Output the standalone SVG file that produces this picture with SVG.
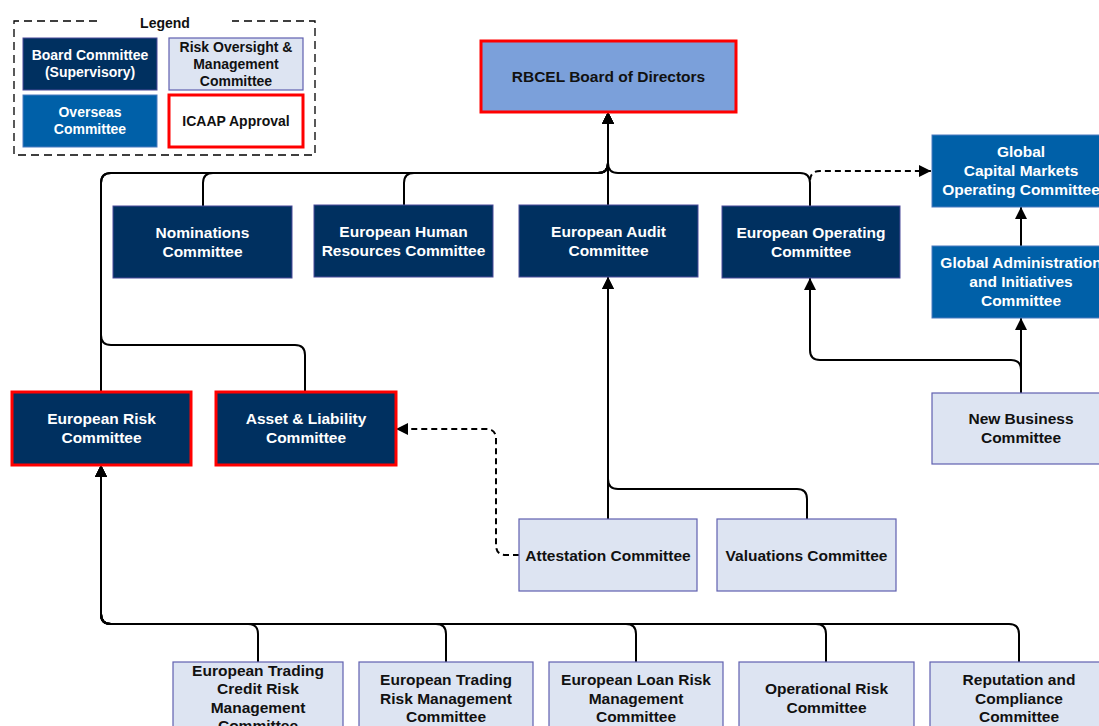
<svg xmlns="http://www.w3.org/2000/svg" width="1099" height="726" viewBox="0 0 1099 726">
<defs>
<marker id="arr" viewBox="0 0 12 12" refX="12" refY="6" markerWidth="12" markerHeight="12" markerUnits="userSpaceOnUse" orient="auto">
<path d="M0,0 L12,6 L0,12 z" fill="#000"/>
</marker>
<style>
text{font-family:"Liberation Sans",Arial,sans-serif;font-weight:bold;text-anchor:middle}
.t{font-size:15.5px}
.l{font-size:14px}
.w{fill:#fff}
.k{fill:#111}
.navy{fill:#003060;stroke:#4a4a9a;stroke-width:1}
.blue{fill:#0060a8;stroke:#4a7ac0;stroke-width:1}
.light{fill:#dde4f2;stroke:#6060b0;stroke-width:1.2}
.red{stroke:#ff0000;stroke-width:3}
.c{fill:none;stroke:#000;stroke-width:2}
.d{fill:none;stroke:#000;stroke-width:2;stroke-dasharray:6,4}
</style>
</defs>
<rect width="1099" height="726" fill="#fff"/>

<g id="legend">
<path d="M97,21 H14 V155 H315 V21 H232" fill="none" stroke="#000" stroke-width="1.3" stroke-dasharray="8,5"/>
<text class="l k" x="165" y="28">Legend</text>
<rect class="navy" x="23" y="38" width="134" height="52"/>
<text class="l w" x="90" y="60">Board Committee</text>
<text class="l w" x="90" y="77">(Supervisory)</text>
<rect class="light" x="169" y="38" width="134" height="52"/>
<text class="l k" x="236" y="52">Risk Oversight &amp;</text>
<text class="l k" x="236" y="69">Management</text>
<text class="l k" x="236" y="86">Committee</text>
<rect class="blue" x="23" y="95" width="134" height="52"/>
<text class="l w" x="90" y="117">Overseas</text>
<text class="l w" x="90" y="134">Committee</text>
<rect x="169" y="95" width="134" height="52" fill="#fff" class="red"/>
<text class="l k" x="236" y="126">ICAAP Approval</text>
</g>

<g id="connectors">
<path class="c" d="M203,206 V183 Q203,173 213,173 H598 Q608,173 608,163 V112" marker-end="url(#arr)"/>
<path class="c" d="M404,205 V183 Q404,173 414,173 H598 Q608,173 608,163 V112" marker-end="url(#arr)"/>
<path class="c" d="M608,205 V112" marker-end="url(#arr)"/>
<path class="c" d="M810,206 V183 Q810,173 800,173 H618 Q608,173 608,163 V112" marker-end="url(#arr)"/>
<path class="c" d="M101,392 V183 Q101,173 111,173 H598 Q608,173 608,163 V112" marker-end="url(#arr)"/>
<path class="c" d="M305,392 V355 Q305,345 295,345 H111 Q101,345 101,335 V183 Q101,173 111,173 H598 Q608,173 608,163 V112" marker-end="url(#arr)"/>
<path class="d" d="M810,200 V181 Q810,171 820,171 H931" marker-end="url(#arr)"/>
<path class="c" d="M1021,246 V207" marker-end="url(#arr)"/>
<path class="c" d="M1021,393 V318" marker-end="url(#arr)"/>
<path class="c" d="M1021,393 V370 Q1021,360 1011,360 H820 Q810,360 810,350 V278" marker-end="url(#arr)"/>
<path class="c" d="M608,519 V277" marker-end="url(#arr)"/>
<path class="c" d="M807,519 V499 Q807,489 797,489 H618 Q608,489 608,479 V277" marker-end="url(#arr)"/>
<path class="d" d="M519,555 H506 Q496,555 496,545 V439 Q496,429 486,429 H396" marker-end="url(#arr)"/>
<path class="c" d="M258,662 V634 Q258,624 248,624 H111 Q101,624 101,614 V465" marker-end="url(#arr)"/>
<path class="c" d="M446,662 V634 Q446,624 436,624 H111 Q101,624 101,614 V465" marker-end="url(#arr)"/>
<path class="c" d="M636,662 V634 Q636,624 626,624 H111 Q101,624 101,614 V465" marker-end="url(#arr)"/>
<path class="c" d="M826,662 V634 Q826,624 816,624 H111 Q101,624 101,614 V465" marker-end="url(#arr)"/>
<path class="c" d="M1019,662 V634 Q1019,624 1009,624 H111 Q101,624 101,614 V465" marker-end="url(#arr)"/>
</g>

<g id="board">
<rect x="481" y="41" width="255" height="71" fill="#7ba0da" class="red"/>
<text class="t k" x="608.5" y="82">RBCEL Board of Directors</text>
</g>

<g id="nominations">
<rect class="navy" x="113" y="206" width="179" height="72"/>
<text class="t w" x="202.5" y="238">Nominations</text>
<text class="t w" x="202.5" y="257">Committee</text>
</g>
<g id="european-hr">
<rect class="navy" x="314" y="205" width="179" height="72"/>
<text class="t w" x="403.5" y="237">European Human</text>
<text class="t w" x="403.5" y="256">Resources Committee</text>
</g>
<g id="european-audit">
<rect class="navy" x="519" y="205" width="179" height="72"/>
<text class="t w" x="608.5" y="237">European Audit</text>
<text class="t w" x="608.5" y="256">Committee</text>
</g>
<g id="european-operating">
<rect class="navy" x="722" y="206" width="178" height="72"/>
<text class="t w" x="811" y="238">European Operating</text>
<text class="t w" x="811" y="257">Committee</text>
</g>

<g id="global-capital-markets">
<rect class="blue" x="932" y="135" width="178" height="72"/>
<text class="t w" x="1021" y="157">Global</text>
<text class="t w" x="1021" y="176">Capital Markets</text>
<text class="t w" x="1021" y="195">Operating Committee</text>
</g>
<g id="global-admin">
<rect class="blue" x="932" y="246" width="178" height="72"/>
<text class="t w" x="1021" y="268">Global Administration</text>
<text class="t w" x="1021" y="287">and Initiatives</text>
<text class="t w" x="1021" y="306">Committee</text>
</g>
<g id="new-business">
<rect class="light" x="932" y="393" width="178" height="71"/>
<text class="t k" x="1021" y="424">New Business</text>
<text class="t k" x="1021" y="443">Committee</text>
</g>

<g id="european-risk">
<rect x="12" y="392" width="179" height="73" fill="#003060" class="red"/>
<text class="t w" x="101.5" y="424">European Risk</text>
<text class="t w" x="101.5" y="443">Committee</text>
</g>
<g id="asset-liability">
<rect x="216" y="392" width="180" height="73" fill="#003060" class="red"/>
<text class="t w" x="306" y="424">Asset &amp; Liability</text>
<text class="t w" x="306" y="443">Committee</text>
</g>

<g id="attestation">
<rect class="light" x="519" y="519" width="178" height="72"/>
<text class="t k" x="608" y="560.5">Attestation Committee</text>
</g>
<g id="valuations">
<rect class="light" x="717" y="519" width="179" height="72"/>
<text class="t k" x="806.5" y="560.5">Valuations Committee</text>
</g>

<g id="trading-credit-risk">
<rect class="light" x="173" y="662" width="170" height="72"/>
<text class="t k" x="258" y="675.5">European Trading</text>
<text class="t k" x="258" y="694">Credit Risk</text>
<text class="t k" x="258" y="712.5">Management</text>
<text class="t k" x="258" y="731">Committee</text>
</g>
<g id="trading-risk">
<rect class="light" x="359" y="662" width="174" height="72"/>
<text class="t k" x="446" y="684.5">European Trading</text>
<text class="t k" x="446" y="703.5">Risk Management</text>
<text class="t k" x="446" y="722">Committee</text>
</g>
<g id="loan-risk">
<rect class="light" x="549" y="662" width="174" height="72"/>
<text class="t k" x="636" y="684.5">European Loan Risk</text>
<text class="t k" x="636" y="703.5">Management</text>
<text class="t k" x="636" y="722">Committee</text>
</g>
<g id="operational-risk">
<rect class="light" x="739" y="662" width="175" height="72"/>
<text class="t k" x="826.5" y="693.5">Operational Risk</text>
<text class="t k" x="826.5" y="712.5">Committee</text>
</g>
<g id="reputation-compliance">
<rect class="light" x="930" y="662" width="178" height="72"/>
<text class="t k" x="1019" y="684.5">Reputation and</text>
<text class="t k" x="1019" y="703.5">Compliance</text>
<text class="t k" x="1019" y="722">Committee</text>
</g>
</svg>
